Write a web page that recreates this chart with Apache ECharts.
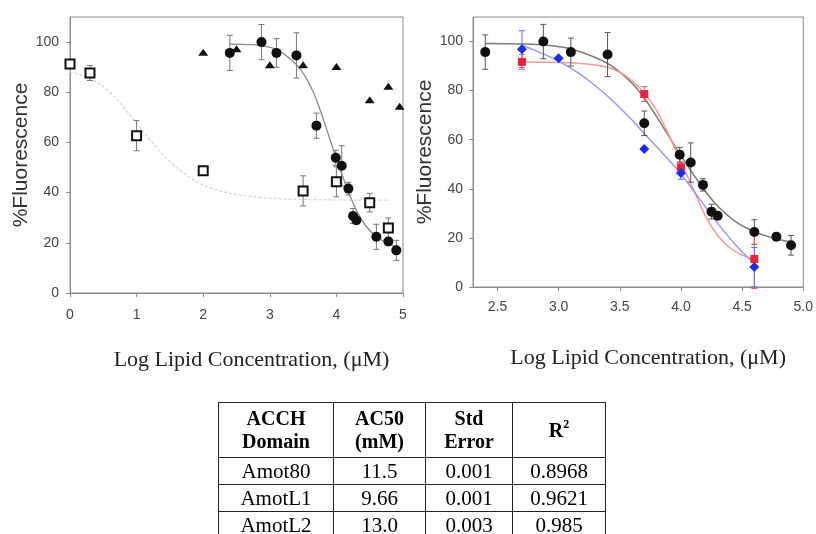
<!DOCTYPE html>
<html><head><meta charset="utf-8">
<script src="https://cdn.jsdelivr.net/npm/echarts@6/dist/echarts.min.js"></script>
<style>
html,body{margin:0;padding:0;background:#fff;width:816px;height:534px;overflow:hidden;}
#chart{position:absolute;left:0;top:0;width:816px;height:534px;}
#tbl{position:absolute;left:218px;top:402px;border-collapse:collapse;font-family:"Liberation Serif","Times New Roman",serif;color:#000;table-layout:fixed;}
#tbl td,#tbl th{border:1px solid #222;text-align:center;padding:0;}
#tbl th{font-weight:bold;font-size:20px;line-height:23px;height:54px;}
#tbl td{font-size:21px;line-height:24px;height:26px;}
#tbl sup{font-size:12px;vertical-align:9px;line-height:0;}
</style>
</head><body>
<div id="chart"></div>
<table id="tbl"></table>
<script>
// ---------- Left panel data ----------
const sqX   = [0, 0.3, 1.0, 2.0, 3.5, 4.0, 4.5, 4.78];
const sqY   = [91.3, 87.7, 62.7, 48.7, 40.7, 44.3, 36.0, 25.9];
const sqErr = [0, 3, 6, 0, 6, 6, 3.7, 4];
const triX  = [2.0, 2.5, 3.0, 3.5, 4.0, 4.5, 4.78, 4.95];
const triY  = [96, 97.3, 91, 91, 90.3, 77, 82.4, 74.4];
const circX   = [2.4, 2.875, 3.1, 3.4, 3.7, 3.99, 4.08, 4.18, 4.25, 4.3, 4.6, 4.78, 4.9];
const circY   = [95.7, 100, 95.7, 94.7, 66.7, 53.9, 50.7, 41.6, 30.7, 29, 22.4, 20.5, 17];
const circErr = [7, 7, 5.7, 9, 5, 3, 8, 2.5, 3, 1.5, 5, 1.5, 4];
// fitted curves
const sqFitX = [0, 0.3, 0.6, 0.9, 1.2, 1.5, 1.8, 2.1, 2.5, 3.0, 3.5, 4.0, 4.5, 4.8];
const sqFitY = [88, 85.5, 80, 71, 61, 52.5, 46, 42, 39.3, 37.8, 37.3, 37.1, 37, 37];
const blkFitX = [2.4, 2.7, 2.9, 3.1, 3.3, 3.45, 3.6, 3.7, 3.8, 3.9, 4.0, 4.1, 4.2, 4.3, 4.45, 4.6, 4.75, 4.9];
const blkFitY = [99.2, 99, 98.5, 97, 93.5, 89.5, 83, 77, 69.5, 61.5, 53.5, 46, 39, 33, 26.5, 22.5, 20, 18.3];
// ---------- Right panel data ----------
const redX   = [2.7, 3.7, 4.0, 4.6];
const redY   = [91.7, 78.6, 48.8, 11.4];
const redErr = [3, 3, 2, 12];
const bluX   = [2.7, 3.0, 3.7, 4.0, 4.6];
const bluY   = [96.9, 93.2, 56.2, 46.4, 8.1];
const bluErr = [7.5, 0, 0, 2.5, 8];
const redFitX = [2.7, 3.0, 3.2, 3.4, 3.5, 3.6, 3.7, 3.8, 3.9, 4.0, 4.1, 4.2, 4.3, 4.4, 4.5, 4.6];
const redFitY = [91.7, 91.5, 91, 89.5, 87.5, 84, 79, 72, 62, 51, 40, 29, 21, 16, 13, 11.4];
const bluFitX = [2.7, 2.85, 3.0, 3.15, 3.3, 3.45, 3.6, 3.7, 3.85, 4.0, 4.15, 4.3, 4.45, 4.6];
const bluFitY = [98.5, 95.5, 92, 87.5, 82, 75.5, 68, 62.5, 54.5, 46, 36, 26, 17, 9.5];
// ---------- Axis ticks ----------
const yTicks = [0, 20, 40, 60, 80, 100];
const leftXTicks = [0, 1, 2, 3, 4, 5];
const rightXTicks = [2.5, 3.0, 3.5, 4.0, 4.5, 5.0];
// ---------- Table ----------
const tblHeader = [['ACCH','Domain'], ['AC50','(mM)'], ['Std','Error'], ['R²']];
const tblDomain = ['Amot80', 'AmotL1', 'AmotL2'];
const tblAC50   = ['11.5', '9.66', '13.0'];
const tblStdErr = ['0.001', '0.001', '0.003'];
const tblR2     = ['0.8968', '0.9621', '0.985'];

// build table
(function(){
  const t = document.getElementById('tbl');
  const widths = [115, 92, 87, 93];
  let h = '<colgroup>' + widths.map(w=>'<col style="width:'+w+'px">').join('') + '</colgroup><tr>';
  tblHeader.forEach((c,i)=>{
    if (i === 3) h += '<th>R<sup>2</sup></th>';
    else h += '<th>' + c.join('<br>') + '</th>';
  });
  h += '</tr>';
  tblDomain.forEach((d,i)=>{
    h += '<tr><td>'+d+'</td><td>'+tblAC50[i]+'</td><td>'+tblStdErr[i]+'</td><td>'+tblR2[i]+'</td></tr>';
  });
  t.innerHTML = h;
})();

const pairs = (xs, ys) => xs.map((x,i)=>[x, ys[i]]);
function errSeries(ai, xs, ys, es, color) {
  const d = [];
  xs.forEach((x,i)=>{ if (es[i] > 0) d.push([x, ys[i]-es[i], ys[i]+es[i]]); });
  return {
    type: 'custom', xAxisIndex: ai, yAxisIndex: ai, z: 3, silent: true, clip: false,
    data: d, encode: {x: 0, y: [1, 2]},
    renderItem: (params, api) => {
      const lo = api.coord([api.value(0), api.value(1)]);
      const hi = api.coord([api.value(0), api.value(2)]);
      const w = 3;
      const st = {stroke: color, lineWidth: 1};
      return {type: 'group', children: [
        {type: 'line', shape: {x1: lo[0], y1: lo[1], x2: hi[0], y2: hi[1]}, style: st},
        {type: 'line', shape: {x1: lo[0]-w, y1: lo[1], x2: lo[0]+w, y2: lo[1]}, style: st},
        {type: 'line', shape: {x1: hi[0]-w, y1: hi[1], x2: hi[0]+w, y2: hi[1]}, style: st}
      ]};
    }
  };
}
function fitSeries(ai, xs, ys, color, width, type) {
  return {type: 'line', xAxisIndex: ai, yAxisIndex: ai, data: pairs(xs, ys), smooth: 0.4,
    symbol: 'none', z: 2, silent: true, lineStyle: {color: color, width: width, type: type || 'solid'}};
}
function scat(ai, xs, ys, symbol, size, style) {
  return {type: 'scatter', xAxisIndex: ai, yAxisIndex: ai, data: pairs(xs, ys), symbol: symbol,
    symbolSize: size, itemStyle: Object.assign({opacity: 1}, style), z: 5, clip: false, silent: true};
}

const AX = '#8c8c8c';
const tickLbl = {fontFamily: '"Liberation Sans", Arial, sans-serif', fontSize: 14, color: '#444'};
function yAx(gi) {
  return {type: 'value', gridIndex: gi, min: 0, max: 110,
    axisLine: {show: true, lineStyle: {color: AX, width: 1}},
    axisTick: {show: true, inside: false, length: 4, customValues: yTicks, lineStyle: {color: AX}},
    axisLabel: Object.assign({customValues: yTicks, margin: gi === 0 ? 11 : 10}, tickLbl),
    splitLine: {show: false},
    name: '%Fluorescence', nameLocation: 'middle', nameRotate: 90, nameGap: gi === 0 ? 31 : 30,
    nameTextStyle: {fontFamily: '"Liberation Sans", Arial, sans-serif', fontSize: 21, color: '#333'}};
}
function xAx(gi, min, max, ticks, fmt, gap, pad, lm) {
  return {type: 'value', gridIndex: gi, min: min, max: max,
    axisLine: {show: true, onZero: false, lineStyle: {color: AX, width: 1}},
    axisTick: {show: true, inside: false, length: 4, customValues: ticks, lineStyle: {color: AX}},
    axisLabel: Object.assign({customValues: ticks, margin: lm, formatter: fmt}, tickLbl),
    splitLine: {show: false},
    name: 'Log Lipid Concentration, (μM)', nameLocation: 'middle', nameGap: gap,
    nameTextStyle: {fontFamily: '"Liberation Serif", "Times New Roman", serif', fontSize: 22, color: '#222',
      padding: pad}};
}

const chart = echarts.init(document.getElementById('chart'), null, {renderer: 'canvas'});
chart.setOption({
  animation: false,
  backgroundColor: '#fff',
  grid: [
    {left: 70, top: 17, width: 333, height: 276, show: true, borderColor: AX, borderWidth: 1, backgroundColor: 'transparent'},
    {left: 473, top: 17, width: 332, height: 270, show: true, borderColor: AX, borderWidth: 1, backgroundColor: 'transparent'}
  ],
  xAxis: [
    xAx(0, 0, 5, leftXTicks, v => String(v), 56, [0, 0, 0, 30], 15),
    xAx(1, 2.3, 5.0, rightXTicks, v => v.toFixed(1), 60, [0, 0, 0, 20], 13)
  ],
  yAxis: [yAx(0), yAx(1)],
  series: [
    // left panel
    fitSeries(0, sqFitX, sqFitY, '#d4d4d4', 1.2, [3, 2]),
    fitSeries(0, blkFitX, blkFitY, '#8a8a8a', 1.3),
    errSeries(0, sqX, sqY, sqErr, '#777'),
    errSeries(0, circX, circY, circErr, '#777'),
    scat(0, triX, triY, 'triangle', [10, 7], {color: '#111'}),
    scat(0, circX, circY, 'circle', 10, {color: '#111'}),
    scat(0, sqX, sqY, 'rect', 9, {color: '#fff', borderColor: '#111', borderWidth: 2}),
    // right panel
    fitSeries(1, blkFitX, blkFitY, '#7a7a7a', 1.5),
    fitSeries(1, redFitX, redFitY, '#f29a9a', 1.5),
    fitSeries(1, bluFitX, bluFitY, '#9a9ae8', 1.5),
    errSeries(1, circX, circY, circErr, '#555'),
    errSeries(1, redX, redY, redErr, '#ee5566'),
    errSeries(1, bluX, bluY, bluErr, '#6a6ae8'),
    scat(1, circX, circY, 'circle', 10, {color: '#111'}),
    scat(1, redX, redY, 'rect', 8, {color: '#e8243c'}),
    scat(1, bluX, bluY, 'diamond', 10, {color: '#1a2ee8'})
  ]
});
</script>
</body></html>
